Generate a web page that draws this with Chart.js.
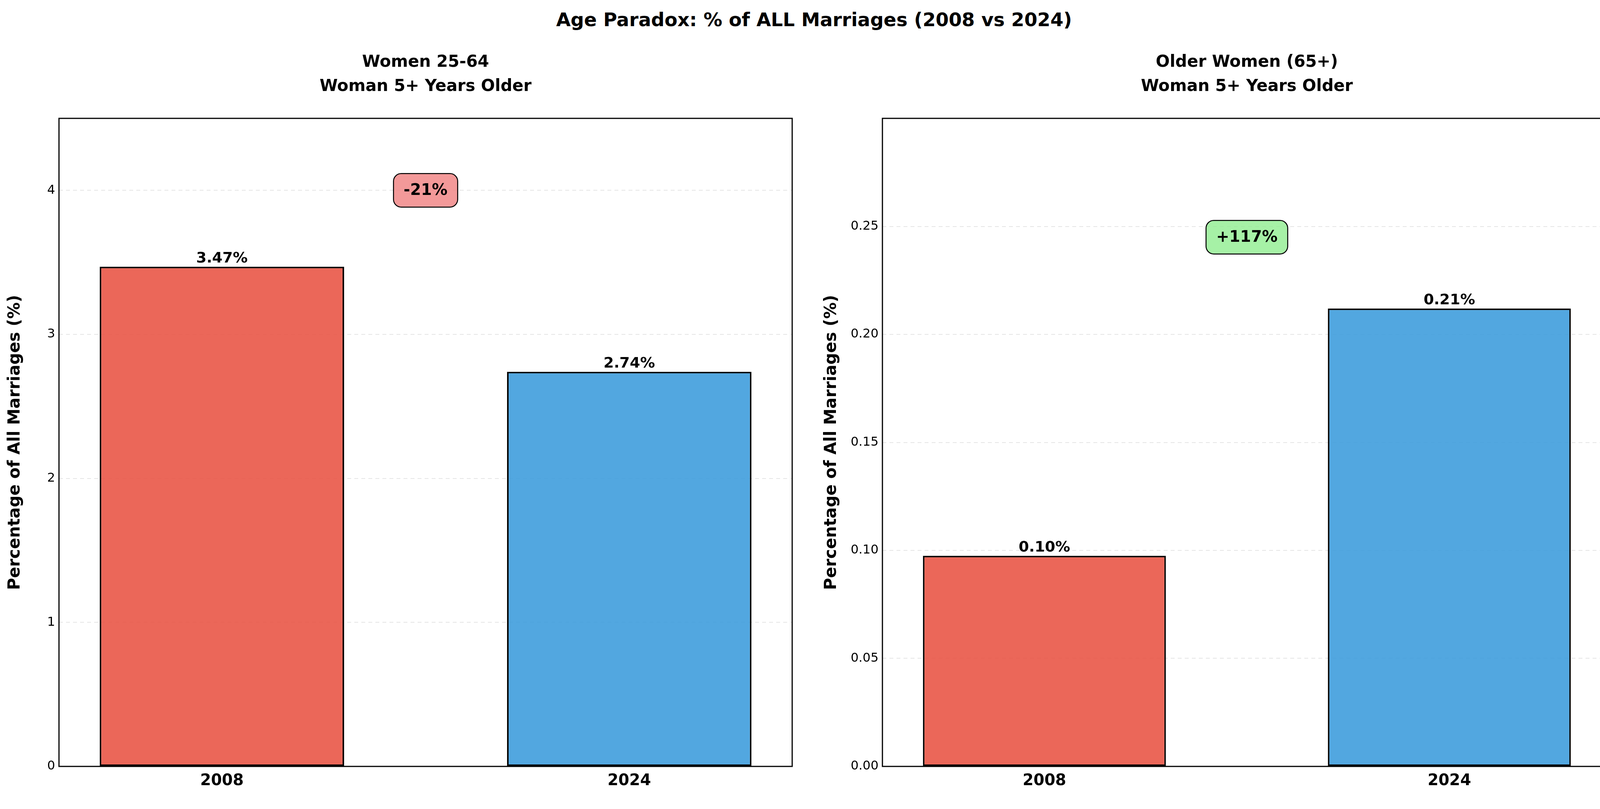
<!DOCTYPE html>
<html><head><meta charset="utf-8">
<script src="https://cdn.jsdelivr.net/npm/chart.js@4"></script>
<style>
body{margin:0;background:#fff;width:4168px;height:2071px;position:relative;overflow:hidden;font-family:"DejaVu Sans",sans-serif}
canvas{position:absolute;top:0}
#title{position:absolute;top:22px;left:0;width:4168px;text-align:center;font:bold 48px "DejaVu Sans";}
</style></head><body>
<div id="title">Age Paradox: % of ALL Marriages (2008 vs 2024)</div>
<canvas id="c1" style="left:0"></canvas>
<canvas id="c2" style="left:2090px"></canvas>
<script>
// data
const years = ['2008', '2024'];
const youngVals = [3.47, 2.74];
const oldVals = [0.0975, 0.212];
const youngLabels = ['3.47%', '2.74%'];
const oldLabels = ['0.10%', '0.21%'];
const youngTicks = [0, 1, 2, 3, 4];
const oldTicks = [0, 0.05, 0.10, 0.15, 0.20, 0.25];
const barColors = ['rgba(231,76,60,0.85)', 'rgba(52,152,219,0.85)'];

const FONT = '"DejaVu Sans", sans-serif';

const decor = {
    id: 'decor',
    afterDatasetsDraw(chart, args, o) {
        const ctx = chart.ctx, a = chart.chartArea;
        ctx.save();
        // frame
        ctx.strokeStyle = '#000'; ctx.lineWidth = 3;
        ctx.strokeRect(a.left, a.top, a.right - a.left, a.bottom - a.top);
        // subplot title
        ctx.fillStyle = '#000'; ctx.textAlign = 'center'; ctx.textBaseline = 'middle';
        ctx.font = 'bold 42px ' + FONT;
        const cx = (a.left + a.right) / 2;
        ctx.fillText(o.title[0], cx, 160);
        ctx.fillText(o.title[1], cx, 222);
        // bar value labels
        ctx.font = 'bold 38px ' + FONT; ctx.textBaseline = 'bottom';
        chart.getDatasetMeta(0).data.forEach((b, i) => ctx.fillText(o.labels[i], b.x, b.y - 2));
        // change badge
        const bx = chart.scales.x.getPixelForValue(0.5), by = chart.scales.y.getPixelForValue(o.badgeY);
        ctx.font = 'bold 40px ' + FONT; ctx.textBaseline = 'middle';
        const w = ctx.measureText(o.badge).width + 52, h = 86;
        ctx.beginPath(); ctx.roundRect(bx - w / 2, by - h / 2, w, h, 20);
        ctx.fillStyle = o.badgeColor; ctx.fill();
        ctx.strokeStyle = '#000'; ctx.lineWidth = 2.5; ctx.stroke();
        ctx.fillStyle = '#000'; ctx.fillText(o.badge, bx, by + 1);
        ctx.restore();
    }
};

function makeChart(id, width, vals, labels, yMax, yTicks, yLeft, plotW, title, badge, badgeY, badgeColor, dec) {
    const el = document.getElementById(id);
    el.width = width; el.height = 2071;
    return new Chart(el, {
        type: 'bar',
        data: {
            datasets: [{
                data: vals.map((v, i) => ({x: i, y: v})),
                backgroundColor: barColors,
                borderColor: '#000', borderWidth: 4, borderSkipped: false,
                barPercentage: 0.6, categoryPercentage: 1
            }]
        },
        options: {
            responsive: false, animation: false, devicePixelRatio: 1,
            layout: { padding: { top: 303, right: width - yLeft - plotW, bottom: 29, left: 0 } },
            plugins: {
                legend: { display: false }, tooltip: { enabled: false },
                decor: { title, labels, badge, badgeY, badgeColor }
            },
            scales: {
                x: {
                    type: 'linear', offset: false,
                    afterDataLimits: s => { s.min = -0.38; s.max = 1.38; },
                    afterBuildTicks: s => { s.ticks = [{value: 0}, {value: 1}]; },
                    afterFit: s => { s.height = 80; },
                    ticks: { callback: v => years[v], color: '#000', font: { family: FONT, size: 40, weight: 'bold' }, padding: 6 },
                    grid: { display: false },
                    border: { display: false }
                },
                y: {
                    afterDataLimits: s => { s.min = 0; s.max = yMax; },
                    afterBuildTicks: s => { s.ticks = yTicks.map(v => ({value: v})); },
                    afterFit: s => { s.width = yLeft; },
                    ticks: { color: '#000', font: { family: FONT, size: 32 }, padding: 10,
                             callback: v => v.toFixed(dec) },
                    title: { display: true, text: 'Percentage of All Marriages (%)', color: '#000',
                             font: { family: FONT, size: 42, weight: 'bold' }, padding: 14 },
                    grid: { color: 'rgba(0,0,0,0.1)', lineWidth: 2, drawTicks: false },
                    border: { display: false, dash: [10, 8] }
                }
            }
        },
        plugins: [decor]
    });
}

makeChart('c1', 2090, youngVals, youngLabels, 4.5, youngTicks, 151, 1877, ['Women 25-64', 'Woman 5+ Years Older'],
    '-21%', 4.0, 'rgba(240,128,128,0.8)', 0);
makeChart('c2', 2078, oldVals, oldLabels, 0.275, oldTicks, 169, 1866, ['Older Women (65+)', 'Woman 5+ Years Older'],
    '+117%', 0.245, 'rgba(144,238,144,0.8)', 2);
</script>
</body></html>
